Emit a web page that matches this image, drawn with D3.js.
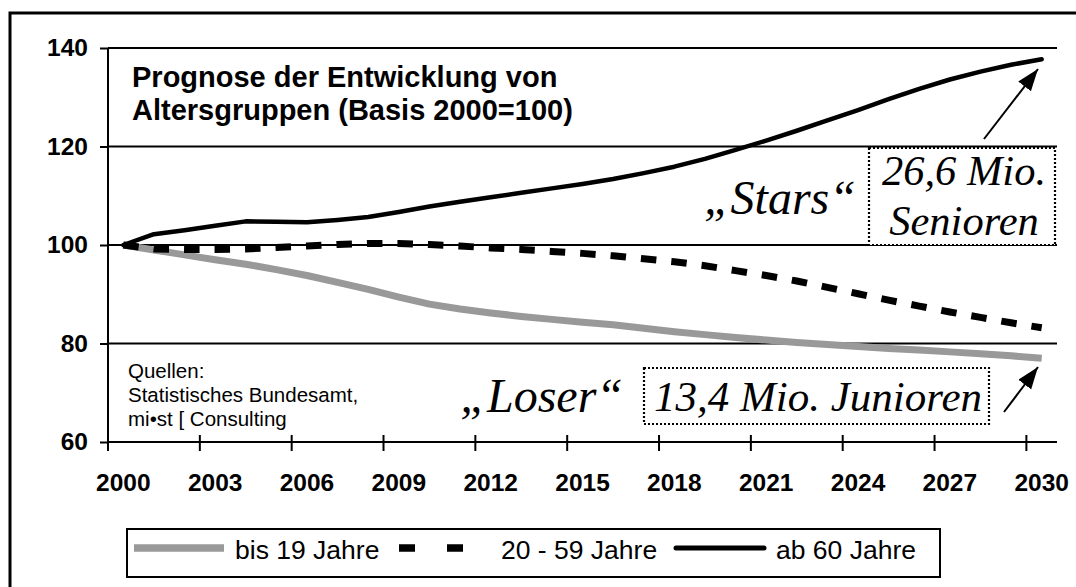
<!DOCTYPE html>
<html><head><meta charset="utf-8">
<script src="https://cdn.jsdelivr.net/npm/d3@7"></script>
<style>
html,body{margin:0;padding:0;background:#fff;}
svg{display:block;}
</style></head>
<body><svg id="c" width="1076" height="587"></svg>
<script>
const years = [2000,2001,2002,2003,2004,2005,2006,2007,2008,2009,2010,2011,2012,2013,2014,2015,
  2016,2017,2018,2019,2020,2021,2022,2023,2024,2025,2026,2027,2028,2029,2030];
const tickYears = [2000,2003,2006,2009,2012,2015,2018,2021,2024,2027,2030];
const yTicks = [60,80,100,120,140];
const seriesNames = ["bis 19 Jahre","20 - 59 Jahre","ab 60 Jahre"];
const under19 = [100,99.0,98.0,97.0,96.1,95.0,93.8,92.4,91.0,89.4,88.0,87.0,86.2,85.5,84.9,84.3,
  83.8,83.1,82.4,81.8,81.2,80.7,80.2,79.8,79.4,79.0,78.7,78.3,77.9,77.5,77.0];
const age20to59 = [100,99.2,99.1,99.1,99.2,99.5,99.8,100.1,100.3,100.3,100.1,99.8,99.4,99.1,98.7,98.3,
  97.8,97.2,96.6,95.8,94.8,93.8,92.7,91.4,90.1,88.8,87.6,86.4,85.3,84.2,83.2];
const over60 = [100,102.2,103.0,103.9,104.8,104.7,104.6,105.1,105.7,106.7,107.8,108.8,109.7,110.6,111.5,112.4,
  113.4,114.6,115.9,117.5,119.3,121.2,123.2,125.3,127.4,129.6,131.7,133.6,135.2,136.6,137.7];
const titleLines = ["Prognose der Entwicklung von","Altersgruppen (Basis 2000=100)"];
const sourceLines = ["Quellen:","Statistisches Bundesamt,","mi\u2022st [ Consulting"];
const starsLabel = "\u201EStars\u201C";
const starsBox = ["26,6 Mio.","Senioren"];
const loserLabel = "\u201ELoser\u201C";
const loserBox = "13,4 Mio. Junioren";

const svg = d3.select("#c");
const SANS = "'Liberation Sans', Arial, sans-serif";
const SERIF = "'Liberation Serif', 'Times New Roman', serif";

// outer frame
svg.append("rect").attr("x",10).attr("y",13).attr("width",1200).attr("height",700)
  .attr("fill","none").attr("stroke","#000").attr("stroke-width",3);

const x = d3.scaleBand().domain(years).range([108,1057]).paddingInner(0).paddingOuter(0);
const bw = x.bandwidth();
const y = d3.scaleLinear().domain([60,140]).range([442,48]);

// gridlines
svg.append("g").selectAll("line").data(yTicks.filter(v=>v>60)).join("line")
  .attr("x1",108).attr("x2",1057).attr("y1",d=>y(d)).attr("y2",d=>y(d))
  .attr("stroke","#000").attr("stroke-width",2);

// y axis
const yAx = svg.append("g").attr("transform","translate(108,0)")
  .call(d3.axisLeft(y).tickValues(yTicks).tickSize(8).tickPadding(12));
yAx.select(".domain").attr("stroke","#000").attr("stroke-width",2).attr("d","M0,"+y(140)+"V"+y(60));
yAx.selectAll(".tick line").attr("stroke","#000").attr("stroke-width",2);
yAx.selectAll("text").attr("font-family",SANS).attr("font-weight","bold").attr("font-size","24.5px").attr("fill","#000");

// x axis
const xAx = svg.append("g").attr("transform","translate(0,442)")
  .call(d3.axisBottom(x).tickValues(tickYears).tickSize(0).tickPadding(32));
xAx.select(".domain").attr("stroke","#000").attr("stroke-width",2).attr("d","M108,0H1057");
xAx.selectAll(".tick line").attr("x1",-bw/2).attr("x2",-bw/2).attr("y1",-7).attr("y2",9)
  .attr("stroke","#000").attr("stroke-width",2);
xAx.selectAll("text").attr("font-family",SANS).attr("font-weight","bold").attr("font-size","24.5px").attr("fill","#000");

// series
const line = d3.line().x((d,i)=>x(years[i])+bw/2).y(d=>y(d));
svg.append("path").datum(under19).attr("d",line).attr("fill","none")
  .attr("stroke","#999").attr("stroke-width",7).attr("stroke-linejoin","round");
svg.append("path").datum(age20to59).attr("d",line).attr("fill","none")
  .attr("stroke","#000").attr("stroke-width",7).attr("stroke-dasharray","15.5,15");
svg.append("path").datum(over60).attr("d",line).attr("fill","none")
  .attr("stroke","#000").attr("stroke-width",4.5).attr("stroke-linejoin","round").attr("stroke-linecap","round");

// title
svg.append("text").attr("font-family",SANS).attr("font-weight","bold").attr("font-size","29px")
  .selectAll("tspan").data(titleLines).join("tspan").attr("x",132).attr("y",(d,i)=>87+i*33).text(d=>d);

// sources
svg.append("text").attr("font-family",SANS).attr("font-size","20.5px")
  .selectAll("tspan").data(sourceLines).join("tspan").attr("x",128).attr("y",(d,i)=>378+i*24).text(d=>d);

// arrow marker
const defs = svg.append("defs");
defs.append("marker").attr("id","ah").attr("markerUnits","userSpaceOnUse")
  .attr("markerWidth",24).attr("markerHeight",18).attr("refX",22).attr("refY",8)
  .attr("orient","auto").append("path").attr("d","M0,0L22,8L0,16Z").attr("fill","#000");

// Stars annotation
svg.append("line").attr("x1",984).attr("y1",139).attr("x2",1038).attr("y2",69)
  .attr("stroke","#000").attr("stroke-width",2).attr("marker-end","url(#ah)");
svg.append("rect").attr("x",869).attr("y",148).attr("width",186).attr("height",97)
  .attr("fill","#fff").attr("stroke","#000").attr("stroke-width",2.2).attr("stroke-dasharray","2,2");
svg.append("text").attr("font-family",SERIF).attr("font-style","italic").attr("font-size","42.5px")
  .attr("text-anchor","middle")
  .selectAll("tspan").data(starsBox).join("tspan").attr("x",964).attr("y",(d,i)=>185+i*50).text(d=>d);
svg.append("text").attr("font-family",SERIF).attr("font-style","italic").attr("font-size","48px")
  .attr("text-anchor","end").attr("x",856).attr("y",214).text(starsLabel);

// Loser annotation
svg.append("line").attr("x1",1004).attr("y1",412).attr("x2",1038).attr("y2",367)
  .attr("stroke","#000").attr("stroke-width",2).attr("marker-end","url(#ah)");
svg.append("rect").attr("x",644).attr("y",368).attr("width",345).attr("height",56)
  .attr("fill","#fff").attr("stroke","#000").attr("stroke-width",2.2).attr("stroke-dasharray","2,2");
svg.append("text").attr("font-family",SERIF).attr("font-style","italic").attr("font-size","43px")
  .attr("text-anchor","middle").attr("x",818).attr("y",411).text(loserBox);
svg.append("text").attr("font-family",SERIF).attr("font-style","italic").attr("font-size","48px")
  .attr("text-anchor","end").attr("x",623).attr("y",412).text(loserLabel);

// legend
const lg = svg.append("g");
lg.append("rect").attr("x",127).attr("y",529).attr("width",813).attr("height",48)
  .attr("fill","#fff").attr("stroke","#000").attr("stroke-width",2);
const legY = 548;
lg.append("line").attr("x1",134).attr("x2",224).attr("y1",legY).attr("y2",legY)
  .attr("stroke","#999").attr("stroke-width",7.5);
lg.append("line").attr("x1",399).attr("x2",463).attr("y1",legY).attr("y2",legY)
  .attr("stroke","#000").attr("stroke-width",7.5).attr("stroke-dasharray","16,32");
lg.append("line").attr("x1",676).attr("x2",764).attr("y1",legY).attr("y2",legY)
  .attr("stroke","#000").attr("stroke-width",5).attr("stroke-linecap","round");
const legX = [235,501,776];
lg.selectAll("text").data(seriesNames).join("text").attr("x",(d,i)=>legX[i]).attr("y",legY+11)
  .attr("font-family",SANS).attr("font-size","26.5px").text(d=>d);
</script>
</body></html>
